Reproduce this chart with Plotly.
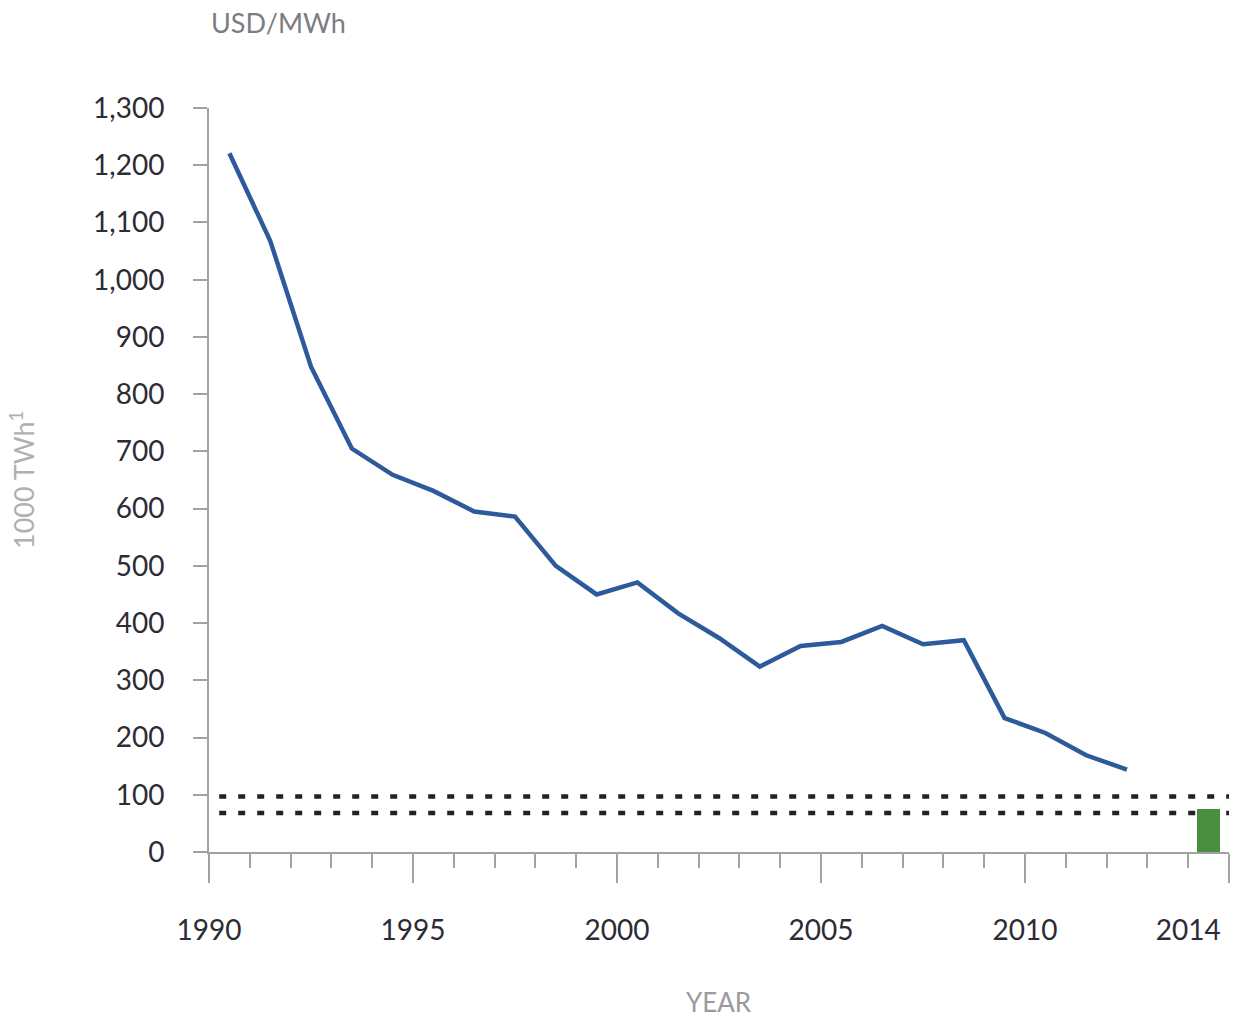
import plotly.graph_objects as go

# levelised cost, USD/MWh
years = [1990, 1991, 1992, 1993, 1994, 1995, 1996, 1997, 1998, 1999, 2000, 2001,
         2002, 2003, 2004, 2005, 2006, 2007, 2008, 2009, 2010, 2011, 2012]
cost = [1221, 1068, 848, 705, 659, 631, 595, 586, 500, 450, 471, 417,
        374, 324, 360, 367, 395, 363, 370, 234, 208, 169, 144]

bar_year = [2014]
bar_value = [75]

band_levels = [97, 68]

label_years = [1990, 1995, 2000, 2005, 2010, 2014]

LINE_BLUE = "#2d5a9b"
GREEN = "#4a8f3f"
AXIS_GREY = "#a2a2a4"
TEXT_DARK = "#2c2c34"
TEXT_GREY = "#9a9a9e"
FONT = "Lato, sans-serif"

fig = go.Figure()

# bars / lines sit in the middle of their year slot
fig.add_trace(go.Bar(
    x=[y + 0.5 for y in bar_year], y=bar_value, width=0.58,
    marker=dict(color=GREEN, line=dict(width=0)),
    xaxis="x2", showlegend=False, hoverinfo="skip",
))

fig.add_trace(go.Scatter(
    x=[y + 0.5 for y in years], y=cost, mode="lines",
    line=dict(color=LINE_BLUE, width=4.5),
    showlegend=False,
))

for lvl in band_levels:
    fig.add_trace(go.Scatter(
        x=[1990.25, 2015], y=[lvl, lvl], mode="lines",
        line=dict(color="#222222", width=4.5, dash="7px,12px"),
        showlegend=False, hoverinfo="skip",
    ))

fig.update_layout(
    width=1235, height=1019,
    margin=dict(l=209, r=6, t=108, b=167),
    paper_bgcolor="white", plot_bgcolor="white",
    font=dict(family=FONT, color=TEXT_DARK),
    xaxis=dict(
        range=[1990, 2015], tick0=1990, dtick=5,
        ticks="outside", ticklen=29, tickwidth=2, tickcolor=AXIS_GREY,
        showticklabels=False, showline=True, linecolor=AXIS_GREY, linewidth=2,
        showgrid=False, zeroline=False,
        minor=dict(ticks="outside", ticklen=14, tickwidth=2, tickcolor=AXIS_GREY,
                   dtick=1, tick0=1990, showgrid=False),
    ),
    xaxis2=dict(
        overlaying="x", anchor="y", side="bottom",
        range=[1990, 2015], tickmode="array", tickvals=label_years,
        ticktext=[str(y) for y in label_years],
        ticks="", showline=False, showgrid=False, zeroline=False,
        tickfont=dict(size=28, color=TEXT_DARK, family=FONT),
        ticklabelstandoff=59,
    ),
    yaxis=dict(
        range=[0, 1300], tick0=0, dtick=100, tickformat=",",
        ticks="outside", ticklen=14, tickwidth=2, tickcolor=AXIS_GREY,
        showline=True, linecolor=AXIS_GREY, linewidth=2,
        showgrid=False, zeroline=False,
        tickfont=dict(size=28, color=TEXT_DARK, family=FONT),
        ticklabelstandoff=23,
    ),
    bargap=0,
)

fig.add_annotation(text="USD/MWh", x=0, y=1, xref="paper", yref="paper",
                   showarrow=False, xanchor="left", yanchor="middle", yshift=86,
                   font=dict(size=27, color="#7c7c82", family=FONT))
fig.add_annotation(text="1000 TWh<sup>1</sup>", x=0, y=0.5, xref="paper", yref="paper",
                   showarrow=False, textangle=-90, xanchor="center", yanchor="middle",
                   xshift=-187,
                   font=dict(size=27, color="#b0b0b4", family=FONT))
fig.add_annotation(text="YEAR", x=0.5, y=0, xref="paper", yref="paper",
                   showarrow=False, xanchor="center", yanchor="middle", yshift=-150,
                   font=dict(size=26, color=TEXT_GREY, family=FONT))

# drop the default 8px body margin so the figure fills the window exactly
fig.write_html("out.html", config={"displayModeBar": False},
               post_script="document.body.style.margin='0';")
